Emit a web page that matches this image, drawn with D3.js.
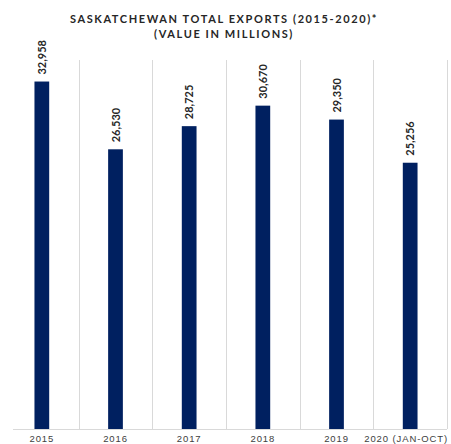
<!DOCTYPE html>
<html lang="en">
<head>
  <meta charset="utf-8">
  <title>Saskatchewan Total Exports</title>
  <script src="https://d3js.org/d3.v7.min.js"></script>
  <style>
    body { margin: 0; background: #fff; font-family: Lato, "Open Sans", sans-serif; }
    svg { display: block; }
    .title { font-weight: bold; font-size: 11px; letter-spacing: 1.6px; fill: #262626; }
    .grid line { stroke: #d9d9d9; stroke-width: 1; }
    .xaxis text { font-size: 9.5px; letter-spacing: 0.9px; fill: #404040; }
    .val { font-size: 11px; font-weight: bold; fill: #262626; }
  </style>
</head>
<body>
  <svg></svg>
  <script>
    // data
    const years = ["2015", "2016", "2017", "2018", "2019", "2020 (JAN-OCT)"];
    const exportsValue = [32958, 26530, 28725, 30670, 29350, 25256];
    const titleLines = ["SASKATCHEWAN TOTAL EXPORTS (2015-2020)*", "(VALUE IN MILLIONS)"];

    const width = 451, height = 444;
    const margin = { top: 60, right: 4, bottom: 15, left: 5 };

    const svg = d3.select("svg").attr("width", width).attr("height", height);

    const x = d3.scaleBand()
      .domain(years)
      .range([margin.left, width - margin.right])
      .paddingInner(0.8)
      .paddingOuter(0.4);

    const y = d3.scaleLinear()
      .domain([0, 35000])
      .range([height - margin.bottom, margin.top]);

    // title
    svg.append("g").selectAll("text")
      .data(titleLines)
      .enter().append("text")
        .attr("class", "title")
        .attr("x", 224)
        .attr("y", (d, i) => 23 + i * 15)
        .attr("text-anchor", "middle")
        .text(d => d);

    // vertical separators between categories
    const step = x.step();
    const bounds = years.map(d => x(d) + x.bandwidth() / 2 + step / 2);
    svg.append("g").attr("class", "grid")
      .selectAll("line")
      .data(bounds)
      .enter().append("line")
        .attr("x1", d => Math.round(d) + 0.5)
        .attr("x2", d => Math.round(d) + 0.5)
        .attr("y1", y(35000))
        .attr("y2", y(0));

    // baseline
    svg.append("line")
      .attr("x1", 13).attr("x2", bounds[bounds.length - 1])
      .attr("y1", y(0) + 0.5).attr("y2", y(0) + 0.5)
      .attr("stroke", "#d9d9d9");

    // bars
    svg.append("g").selectAll("rect")
      .data(years)
      .enter().append("rect")
        .attr("x", d => x(d))
        .attr("width", x.bandwidth())
        .attr("y", (d, i) => y(exportsValue[i]))
        .attr("height", (d, i) => y(0) - y(exportsValue[i]))
        .attr("fill", "#002060");

    // value labels, rotated
    const fmt = d3.format(",");
    svg.append("g").selectAll("text")
      .data(years)
      .enter().append("text")
        .attr("class", "val")
        .attr("transform", (d, i) => `translate(${x(d) + x.bandwidth() / 2 + 4},${y(exportsValue[i]) - 7}) rotate(-90)`)
        .text((d, i) => fmt(exportsValue[i]));

    // x axis labels
    const xAxis = d3.axisBottom(x).tickSize(0).tickPadding(6);
    svg.append("g")
      .attr("class", "xaxis")
      .attr("transform", `translate(0,${y(0)})`)
      .call(xAxis)
      .call(g => g.select(".domain").remove())
      .call(g => g.selectAll(".tick:last-of-type text").attr("dx", "-4"));
  </script>
</body>
</html>
